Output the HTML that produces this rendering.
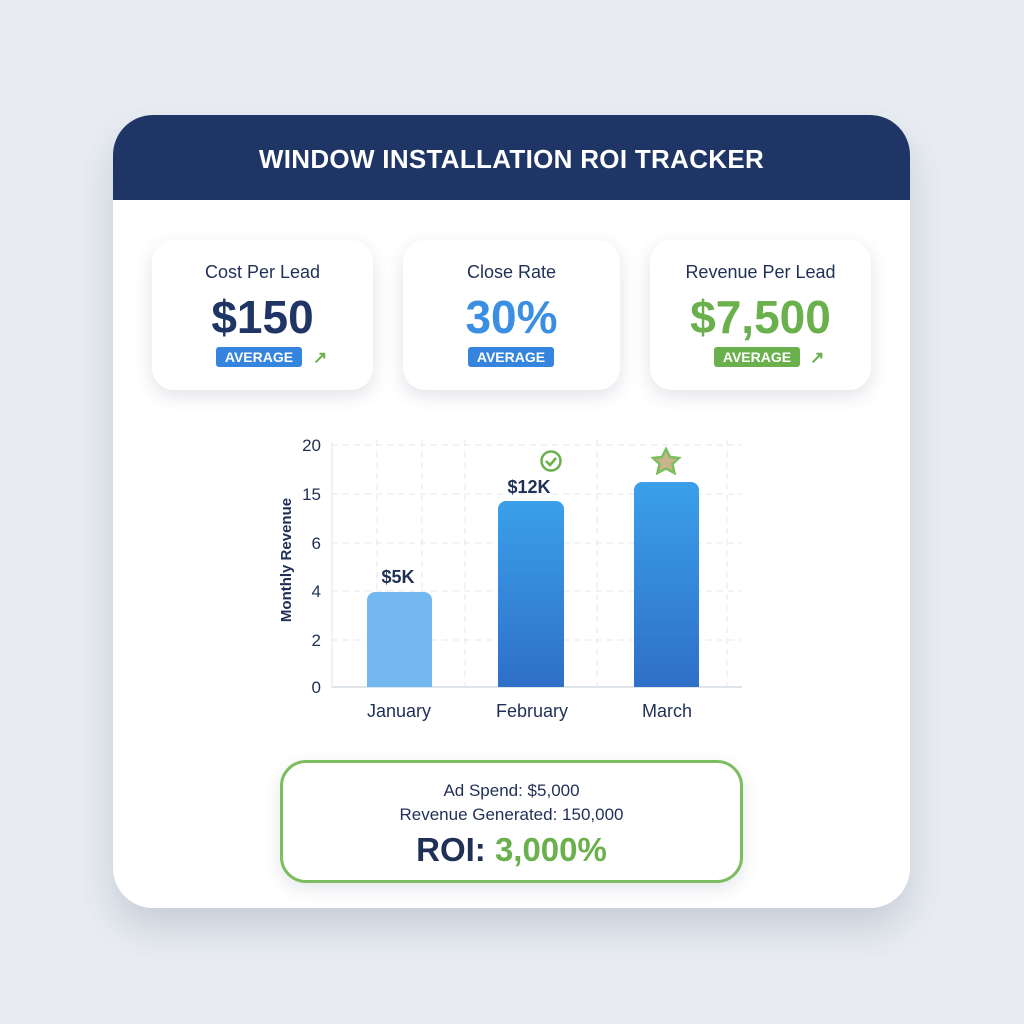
<!DOCTYPE html>
<html><head><meta charset="utf-8"><style>
*{margin:0;padding:0;box-sizing:border-box}
body{width:1024px;height:1024px;background:#e9edf2;font-family:"Liberation Sans",sans-serif;position:relative;overflow:hidden}
.card{position:absolute;left:113px;top:115px;width:797px;height:793px;background:#fff;border-radius:40px;box-shadow:0 20px 40px rgba(40,60,90,.18);overflow:hidden}
.hdr{position:absolute;left:0;top:0;width:100%;height:85px;background:#1e3566;color:#fff;font-weight:bold;font-size:26px;text-align:center;line-height:88px;letter-spacing:.3px}
.m{position:absolute;top:125px;height:150px;background:#fff;border-radius:22px;box-shadow:0 6px 18px rgba(40,60,90,.14);text-align:center}
.m .t{position:absolute;top:22px;width:100%;font-size:18px;color:#1f2f55;font-weight:500}
.m .v{position:absolute;top:50px;width:100%;font-size:46px;font-weight:bold}
.b{position:absolute;top:107px;height:20px;color:#fff;font-size:14px;font-weight:bold;line-height:20px;border-radius:3px;text-align:center}
.ar{position:absolute;top:108px;color:#6ab04c;font-size:17px;font-weight:bold}
.roi{position:absolute;left:167px;top:645px;width:463px;height:123px;border:3px solid #7bbd5f;border-radius:26px;text-align:center;color:#1f2f55;background:#fff;box-shadow:0 6px 18px rgba(40,60,90,.12)}
</style></head><body>
<div class="card">
<div class="hdr">WINDOW INSTALLATION ROI TRACKER</div>
<div class="m" style="left:39px;width:221px"><div class="t">Cost Per Lead</div><div class="v" style="color:#1e3566">$150</div>
<div class="b" style="left:64px;width:86px;background:#3585de">AVERAGE</div><div class="ar" style="left:161px">↗</div></div>
<div class="m" style="left:290px;width:217px"><div class="t">Close Rate</div><div class="v" style="color:#3a8fe3">30%</div>
<div class="b" style="left:65px;width:86px;background:#3585de">AVERAGE</div></div>
<div class="m" style="left:537px;width:221px"><div class="t">Revenue Per Lead</div><div class="v" style="color:#6ab04c">$7,500</div>
<div class="b" style="left:64px;width:86px;background:#6ab04c">AVERAGE</div><div class="ar" style="left:160px">↗</div></div>
<div class="roi"><div style="position:absolute;top:18px;width:100%;font-size:17px">Ad Spend: $5,000</div>
<div style="position:absolute;top:42px;width:100%;font-size:17px">Revenue Generated: 150,000</div>
<div style="position:absolute;top:68px;width:100%;font-size:33px;font-weight:bold">ROI: <span style="color:#6ab04c">3,000%</span></div></div>
</div>
<svg style="position:absolute;left:0;top:0" width="1024" height="1024" font-family="Liberation Sans, sans-serif">
<defs>
<linearGradient id="g" x1="0" y1="0" x2="0" y2="1"><stop offset="0" stop-color="#3aa0ea"/><stop offset="1" stop-color="#2f6fc8"/></linearGradient>
</defs>
<g stroke="#e3e7ee" stroke-dasharray="6,5" stroke-width="1">
<line x1="332" x2="742" y1="445" y2="445"/><line x1="332" x2="742" y1="494" y2="494"/><line x1="332" x2="742" y1="543" y2="543"/><line x1="332" x2="742" y1="591" y2="591"/><line x1="332" x2="742" y1="640" y2="640"/>
<line x1="377" x2="377" y1="440" y2="687"/><line x1="422" x2="422" y1="440" y2="687"/><line x1="465" x2="465" y1="440" y2="687"/><line x1="597" x2="597" y1="440" y2="687"/><line x1="727" x2="727" y1="440" y2="687"/>
</g>
<line x1="332" x2="332" y1="442" y2="688" stroke="#dfe3ea"/>
<line x1="332" x2="742" y1="687" y2="687" stroke="#dfe3ea" stroke-width="2"/>
<g font-size="17" fill="#1f2f55" text-anchor="end">
<text x="321" y="451">20</text><text x="321" y="500">15</text><text x="321" y="549">6</text><text x="321" y="597">4</text><text x="321" y="646">2</text><text x="321" y="693">0</text></g>
<text transform="translate(291,560) rotate(-90)" font-size="15" font-weight="bold" fill="#1f2f55" text-anchor="middle">Monthly Revenue</text>
<path d="M367 687V600a8 8 0 0 1 8-8h49a8 8 0 0 1 8 8v87z" fill="#74b8f2"/>
<path d="M498 687V509a8 8 0 0 1 8-8h50a8 8 0 0 1 8 8v178z" fill="url(#g)"/>
<path d="M634 687V490a8 8 0 0 1 8-8h49a8 8 0 0 1 8 8v197z" fill="url(#g)"/>
<g font-size="18" fill="#1f2f55" text-anchor="middle" font-weight="bold">
<text x="398" y="583">$5K</text><text x="529" y="493">$12K</text></g>
<g font-size="18" fill="#1f2f55" text-anchor="middle">
<text x="399" y="717">January</text><text x="532" y="717">February</text><text x="667" y="717">March</text></g>
<circle cx="551" cy="461" r="9.5" fill="none" stroke="#6ab04c" stroke-width="2.5"/>
<path d="M546 461l4 4 6-7" fill="none" stroke="#6ab04c" stroke-width="2.5"/>
<path d="M666 449l4 8 9 1-6.5 6 2 9-8.5-4.5-8.5 4.5 2-9-6.5-6 9-1z" fill="#c9b48a" stroke="#7bbd5f" stroke-width="2.5"/>
</svg>
</body></html>
